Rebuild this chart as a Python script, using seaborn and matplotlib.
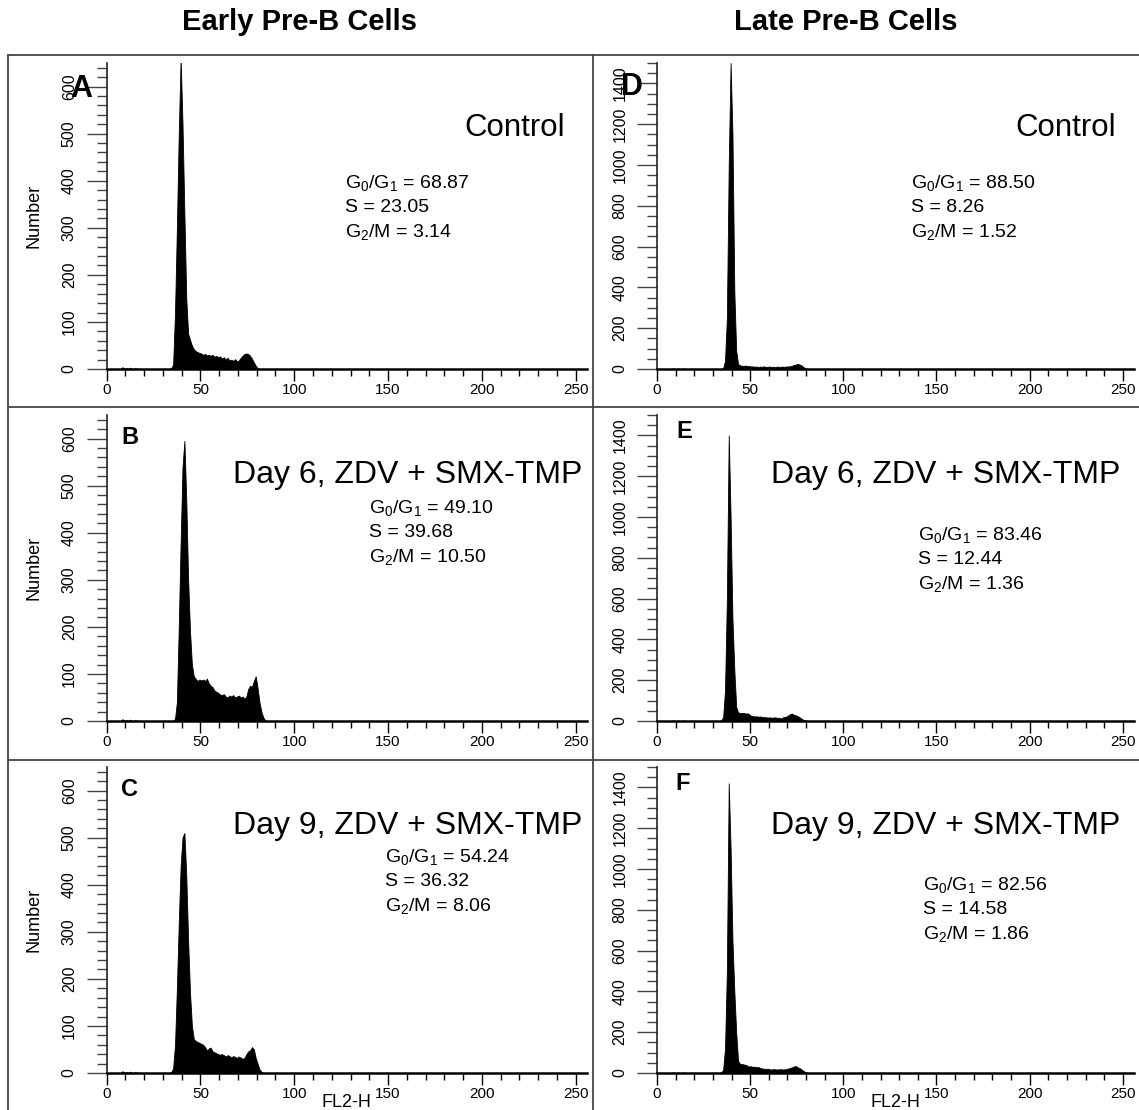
import numpy as np
import pandas as pd
import matplotlib
matplotlib.use("Agg")
import matplotlib.pyplot as plt
from matplotlib.ticker import MultipleLocator
from matplotlib.lines import Line2D
import seaborn as sns

sns.set_theme(style="white")
plt.rcParams["font.family"] = ["Liberation Sans", "DejaVu Sans"]
plt.rcParams["mathtext.default"] = "regular"
plt.rcParams["text.color"] = "black"
plt.rcParams["axes.labelcolor"] = "black"
plt.rcParams["xtick.color"] = "black"
plt.rcParams["ytick.color"] = "black"

# ---------------- data ----------------
column_titles = ["Early Pre-B Cells", "Late Pre-B Cells"]
panel_letters = ["A", "B", "C", "D", "E", "F"]
panel_titles = ["Control", "Day 6, ZDV + SMX-TMP", "Day 9, ZDV + SMX-TMP",
                "Control", "Day 6, ZDV + SMX-TMP", "Day 9, ZDV + SMX-TMP"]
g0g1 = ["68.87", "49.10", "54.24", "88.50", "83.46", "82.56"]
s_phase = ["23.05", "39.68", "36.32", "8.26", "12.44", "14.58"]
g2m = ["3.14", "10.50", "8.06", "1.52", "1.36", "1.86"]

# histogram counts per FL2-H channel, starting at channel 34
start_channel = 34
counts_A = [2, 10, 120, 300, 500, 660, 520, 330, 150, 75, 62, 50, 42, 38, 36, 34, 33,
            30, 32, 29, 30, 28, 30, 26, 28, 25, 27, 22, 25, 20, 24, 18, 20, 17, 21,
            16, 18, 24, 28, 32, 33, 32, 28, 22, 14, 7, 2, 0]
counts_B = [0, 0, 5, 40, 200, 380, 540, 595, 470, 300, 190, 120, 95, 90, 85, 88, 86,
            88, 85, 90, 80, 75, 72, 65, 62, 60, 56, 55, 57, 52, 50, 54, 52, 55, 50,
            52, 54, 50, 52, 47, 52, 68, 75, 72, 85, 95, 70, 40, 20, 8, 2, 0]
counts_C = [2, 10, 60, 180, 320, 440, 500, 510, 420, 280, 170, 100, 72, 68, 66, 64,
            62, 60, 55, 48, 52, 54, 46, 44, 42, 40, 39, 40, 38, 35, 38, 36, 33, 36,
            34, 32, 35, 33, 30, 32, 40, 46, 48, 55, 50, 32, 20, 8, 3, 0]
counts_D = [0, 5, 40, 250, 1000, 1500, 1150, 380, 90, 25, 18, 16, 15, 17, 14, 15, 12,
            13, 11, 12, 10, 12, 11, 13, 10, 11, 12, 10, 11, 9, 12, 10, 11, 12, 10,
            13, 12, 14, 16, 20, 22, 25, 22, 18, 10, 4, 1, 0]
counts_E = [3, 20, 150, 600, 1400, 1000, 500, 250, 70, 42, 40, 38, 40, 36, 38, 33,
            25, 24, 22, 23, 21, 22, 20, 19, 18, 17, 18, 16, 17, 18, 15, 16, 12, 18,
            20, 22, 28, 34, 36, 30, 28, 24, 18, 12, 6, 3, 1, 0]
counts_F = [3, 15, 120, 500, 1420, 1100, 650, 400, 200, 60, 45, 44, 42, 40, 36, 32,
            33, 30, 31, 28, 29, 24, 22, 21, 20, 21, 18, 17, 19, 18, 17, 18, 19, 17,
            18, 20, 22, 25, 28, 32, 34, 28, 24, 18, 11, 5, 1, 0]
# small debris counts at low channels (channel, count)
debris_left = [(8, 4), (10, 2), (12, 3), (15, 2)]
debris_right = [(8, 3), (11, 2), (14, 3)]

all_counts = [counts_A, counts_B, counts_C, counts_D, counts_E, counts_F]

W, H = 1139, 1110
fig = plt.figure(figsize=(W / 100, H / 100), dpi=100)

def fx(px):
    return px / W

def fy(py):
    return 1 - py / H

col_x0 = [106.5, 657.0]
col_w = [480.5, 477.0]
row_base = [369, 721, 1073]
ax_h = 306

for idx in range(6):
    col = idx // 3
    row = idx % 3
    ax = fig.add_axes([fx(col_x0[col]), fy(row_base[row]), col_w[col] / W, ax_h / H])
    counts = np.zeros(256)
    vals = all_counts[idx]
    counts[start_channel:start_channel + len(vals)] = vals
    for c, v in (debris_left if col == 0 else debris_right):
        counts[c] = v
    df = pd.DataFrame({"channel": np.arange(256) + 0.5, "count": counts})
    sns.histplot(data=df, x="channel", weights="count", binwidth=1, binrange=(0, 256),
                 element="poly", fill=True, color="black", alpha=1, linewidth=0.6,
                 ax=ax)
    ax.set_xlim(0, 256)
    if col == 0:
        ax.set_ylim(0, 650)
        ax.yaxis.set_major_locator(MultipleLocator(100))
        ax.yaxis.set_minor_locator(MultipleLocator(20))
    else:
        ax.set_ylim(0, 1500)
        ax.yaxis.set_major_locator(MultipleLocator(200))
        ax.yaxis.set_minor_locator(MultipleLocator(50))
    ax.xaxis.set_major_locator(MultipleLocator(50))
    ax.xaxis.set_minor_locator(MultipleLocator(10))
    for s in ["top", "right"]:
        ax.spines[s].set_visible(False)
    ax.spines["bottom"].set_linewidth(1.8)
    ax.spines["bottom"].set_color("black")
    ax.spines["left"].set_linewidth(1.2)
    ax.spines["left"].set_color("#222222")
    ax.set_facecolor("none")
    ax.tick_params(axis="x", which="major", direction="out", length=8.6, width=1.0,
                   color="black", labelsize=11, pad=1.5, bottom=True)
    ax.tick_params(axis="x", which="minor", direction="out", length=5, width=1.0,
                   color="black", bottom=True)
    ax.tick_params(axis="y", which="major", direction="out", length=14.4, width=1.0,
                   color="#444444", labelsize=11.5, pad=7, left=True, labelrotation=90)
    ax.tick_params(axis="y", which="minor", direction="out", length=7.2, width=1.0,
                   color="#444444", left=True)
    for lab in ax.get_yticklabels():
        lab.set_va("center")
    ax.set_xlabel("FL2-H" if row == 2 else "", fontsize=13)
    if row == 2:
        ax.xaxis.set_label_coords(0.5, -0.07)
    if col == 0:
        ax.set_ylabel("Number", fontsize=13)
        ax.yaxis.set_label_coords(-0.133, 0.5)
    else:
        ax.set_ylabel("")

# column titles
fig.text(fx(300), fy(22), column_titles[0], fontsize=21, fontweight="bold",
         ha="center", va="center")
fig.text(fx(846), fy(22), column_titles[1], fontsize=21, fontweight="bold",
         ha="center", va="center")

# panel letters
letter_pos = [(81, 89, 22), (130, 437, 17), (130, 789, 17),
              (632, 87, 22), (684, 431, 17), (683, 783, 17)]
for (x, y, s), L in zip(letter_pos, panel_letters):
    fig.text(fx(x), fy(y), L, fontsize=s, fontweight="bold", ha="center", va="center")

# panel titles
title_pos = [(565, 128), (582, 475), (582, 826), (1116, 128), (1120, 475), (1120, 826)]
for (x, y), t in zip(title_pos, panel_titles):
    fig.text(fx(x), fy(y), t, fontsize=22.5 if t == "Control" else 23,
             ha="right", va="center")

# stats
stat_pos = [(345, 183), (369, 508), (385, 857), (911, 183), (918, 535), (923, 885)]
for (x, y), a, b, c in zip(stat_pos, g0g1, s_phase, g2m):
    fig.text(fx(x), fy(y), r"G$_0$/G$_1$ = " + a, fontsize=14, ha="left", va="center")
    fig.text(fx(x), fy(y + 24.5), "S = " + b, fontsize=14, ha="left", va="center")
    fig.text(fx(x), fy(y + 49), r"G$_2$/M = " + c, fontsize=14, ha="left", va="center")

# frame lines
frame = [((8, 1139), (55, 55)), ((8, 1139), (407, 407)), ((8, 1139), (760, 760)),
         ((8, 8), (55, 1110)), ((593, 593), (55, 1110))]
for xs, ys in frame:
    fig.add_artist(Line2D([fx(xs[0]), fx(xs[1])], [fy(ys[0]), fy(ys[1])],
                          transform=fig.transFigure, color="#444444", lw=1.3))

fig.savefig("out.png", dpi=100)
